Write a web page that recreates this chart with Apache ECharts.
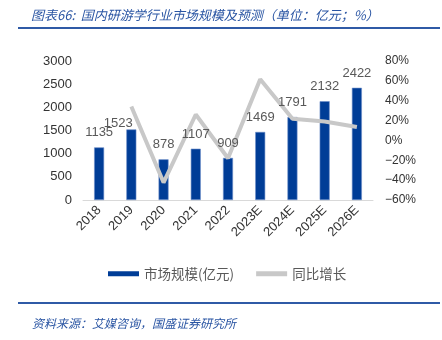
<!DOCTYPE html>
<html><head><meta charset="utf-8">
<script src="https://cdn.jsdelivr.net/npm/echarts@6/dist/echarts.min.js"></script>
<style>html,body{margin:0;padding:0;background:#fff}#c{width:442px;height:340px}</style>
</head><body><div id="c"></div>
<script>
const categories = ['2018','2019','2020','2021','2022','2023E','2024E','2025E','2026E'];
const marketSize = [1135,1523,878,1107,909,1469,1791,2132,2422];
const growth = [null,34.2,-42.4,26.1,-17.9,61.6,21.9,19.0,13.6];
const leftTicks = {min:0,max:3000,interval:500};
const rightTicks = {min:-60,max:80,interval:20};

const chart = echarts.init(document.getElementById('c'));
const numFont = 'Liberation Sans, Arial, sans-serif';
const cjk = '"Noto Sans CJK SC", sans-serif';
const labelData = marketSize.map((v,i)=> i===1 ? {value:v,label:{offset:[-13,8]}} : v);
chart.setOption({
  animation:false,
  title:[
    {text:'图表66:  国内研游学行业市场规模及预测（单位：亿元；%）',left:26,top:4,
     textStyle:{fontSize:13,fontStyle:'italic',fontWeight:'normal',color:'#2a55a3',fontFamily:cjk}},
    {text:'资料来源：艾媒咨询，国盛证券研究所',left:27,top:312,
     textStyle:{fontSize:12,fontStyle:'italic',fontWeight:'normal',color:'#2a55a3',fontFamily:cjk}}
  ],
  graphic:[
    {type:'rect',shape:{x:18,y:27,width:422,height:2},style:{fill:'#2f5aa6'}},
    {type:'rect',shape:{x:18,y:302,width:422,height:2},style:{fill:'#2f5aa6'}}
  ],
  grid:{left:83,right:69,top:61,bottom:140},
  legend:{
    top:262,left:103,itemGap:22,itemWidth:31,itemHeight:5,
    textStyle:{fontSize:13.5,color:'#595959',fontFamily:cjk},
    data:[{name:'市场规模(亿元)',icon:'rect',itemStyle:{borderWidth:0}},{name:'同比增长',icon:'rect'}]
  },
  xAxis:{type:'category',data:categories,
    axisLine:{lineStyle:{color:'#d9d9d9',width:1}},axisTick:{show:false},
    axisLabel:{rotate:45,fontSize:13,color:'#333',fontFamily:numFont,margin:8,interval:0}},
  yAxis:[
    {type:'value',min:leftTicks.min,max:leftTicks.max,interval:leftTicks.interval,
     splitLine:{show:false},axisLine:{show:false},axisTick:{show:false},
     axisLabel:{fontSize:13,color:'#333',fontFamily:numFont,margin:11,formatter:v=>String(v)}},
    {type:'value',min:rightTicks.min,max:rightTicks.max,interval:rightTicks.interval,
     splitLine:{show:false},axisLine:{show:false},axisTick:{show:false},
     axisLabel:{fontSize:12,color:'#333',fontFamily:numFont,margin:12,
       formatter:v=>(v<0?'−'+(-v):v)+'%'}}
  ],
  series:[
    {name:'市场规模(亿元)',type:'bar',data:marketSize,barWidth:10,z:2,
     itemStyle:{color:'#003d97',borderColor:'#6d8fc9',borderWidth:0.6}},
    {name:'同比增长',type:'line',yAxisIndex:1,data:growth,symbol:'none',z:3,
     lineStyle:{color:'#c8c8c8',width:4},itemStyle:{color:'#c8c8c8'}},
    {name:'labels',type:'bar',data:labelData,barWidth:10,barGap:'-100%',z:5,silent:true,
     itemStyle:{color:'rgba(0,0,0,0)'},
     label:{show:true,position:'top',distance:8,fontSize:13,color:'#595959',fontFamily:numFont}}
  ]
});
</script></body></html>
